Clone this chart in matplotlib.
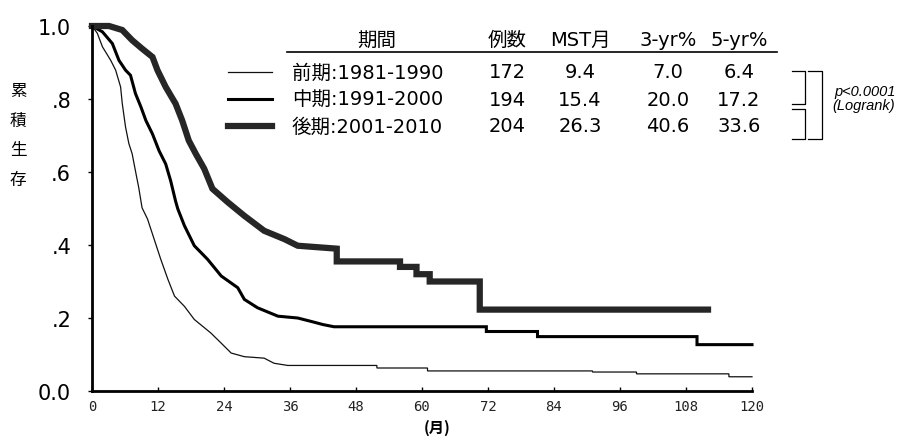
import matplotlib
matplotlib.use("Agg")
import matplotlib.pyplot as plt
from matplotlib.lines import Line2D

plt.rcParams['font.family'] = ['DejaVu Sans', 'Noto Sans CJK JP']

# curve vertices (month, cumulative survival)
# 前期 1981-1990 (thin)
t_early = [0, 0.97, 1.9, 3.4, 4.3, 5.2, 5.5, 6.1, 6.7, 7.3, 7.9, 8.5, 9.1, 10.1,
           11.3, 12.5, 13.8, 15, 16.8, 18.6, 21.6, 23.5, 25.3, 27.7, 31.3, 33.1,
           35.6, 51.8, 51.8, 61, 61, 91, 91, 99, 99, 115.8, 115.8, 120]
s_early = [1.0, 0.98, 0.943, 0.906, 0.879, 0.833, 0.788, 0.723, 0.678, 0.65, 0.603,
           0.557, 0.502, 0.471, 0.416, 0.361, 0.306, 0.26, 0.232, 0.196, 0.159,
           0.131, 0.104, 0.094, 0.09, 0.076, 0.070, 0.070, 0.063, 0.063, 0.055,
           0.055, 0.052, 0.052, 0.047, 0.047, 0.039, 0.039]

# 中期 1991-2000 (medium)
t_mid = [0, 1.9, 3.7, 4.9, 6.1, 7.0, 7.9, 8.9, 9.8, 11.0, 12.2, 13.4, 14.3, 15.2,
         15.6, 16.8, 18.6, 21, 23.5, 26.5, 27.7, 30.1, 33.8, 37.4, 40, 42, 44,
         71.7, 71.7, 81, 81, 110, 110, 120]
s_mid = [1.0, 0.984, 0.952, 0.906, 0.879, 0.865, 0.815, 0.778, 0.741, 0.704, 0.658,
         0.622, 0.576, 0.52, 0.499, 0.453, 0.398, 0.361, 0.315, 0.283, 0.251, 0.228,
         0.205, 0.20, 0.19, 0.182, 0.176, 0.176, 0.163, 0.163, 0.149, 0.149, 0.127,
         0.127]

# 後期 2001-2010 (thick)
t_late = [0, 3.1, 5.5, 7.3, 9.1, 11, 11.9, 13.4, 15.2, 16.4, 17.6, 18.9, 20.4, 21.9,
          24.7, 27.7, 31.3, 35, 37.4, 44.5, 44.5, 56, 56, 59, 59, 61.4, 61.4,
          70.5, 70.5, 112]
s_late = [1.0, 1.0, 0.989, 0.961, 0.938, 0.915, 0.879, 0.833, 0.787, 0.741, 0.686,
          0.649, 0.609, 0.554, 0.517, 0.48, 0.439, 0.416, 0.398, 0.39, 0.355, 0.355,
          0.34, 0.34, 0.32, 0.32, 0.30, 0.30, 0.223, 0.223]

groups = ['前期:1981-1990', '中期:1991-2000', '後期:2001-2010']
n_cases = ['172', '194', '204']
mst = ['9.4', '15.4', '26.3']
yr3 = ['7.0', '20.0', '40.6']
yr5 = ['6.4', '17.2', '33.6']
headers = ['期間', '例数', 'MST月', '3-yr%', '5-yr%']

xticks = [0, 12, 24, 36, 48, 60, 72, 84, 96, 108, 120]
yticks = [0, 0.2, 0.4, 0.6, 0.8, 1.0]
ytick_labels = ['0.0', '.2', '.4', '.6', '.8', '1.0']

W, H = 920, 439
fig = plt.figure(figsize=(W / 100, H / 100), dpi=100)


def fx(px):
    return px / W


def fy(py):
    return 1 - py / H


ax = fig.add_axes([fx(92), fy(392), fx(752) - fx(92), fy(27) - fy(392)])

styles = [dict(color='#111111', lw=0.9),
          dict(color='black', lw=2.2),
          dict(color='#262626', lw=4.5)]
series = [(t_early, s_early), (t_mid, s_mid), (t_late, s_late)]
for (t, s), st in zip(series, styles):
    ax.plot(t, s, clip_on=False, solid_joinstyle='miter', **st)

ax.set_xlim(0, 120)
ax.set_ylim(0, 1.0)
for side in ['top', 'right']:
    ax.spines[side].set_visible(False)
for side in ['left', 'bottom']:
    ax.spines[side].set_linewidth(2.0)

ax.set_xticks(xticks)
ax.set_xticklabels([str(v) for v in xticks], family='DejaVu Sans Mono',
                   fontsize=10, color='#222222')
ax.set_yticks(yticks)
ax.set_yticklabels(ytick_labels, fontsize=15)
ax.tick_params(axis='x', direction='in', length=3, width=1, pad=6)
ax.tick_params(axis='y', direction='out', length=3, width=1, pad=12)

# y label, stacked characters
fig.text(fx(18), fy(136), '累\n積\n生\n存', ha='center', va='center',
         fontsize=12, linespacing=1.95, family=['Noto Sans CJK JP'])
fig.text(fx(437), fy(428), '(月)', ha='center', va='center', fontsize=11,
         fontweight='bold', family=['Noto Sans CJK JP'])

# table header
col_x = [377, 507, 580, 668, 739]
for x, h in zip(col_x, headers):
    fig.text(fx(x), fy(40), h, ha='center', va='center', fontsize=14)
fig.add_artist(Line2D([fx(287), fx(777)], [fy(53), fy(53)], color='black', lw=1.2))

row_y = [73, 100, 127]
for i, y in enumerate(row_y):
    fig.add_artist(Line2D([fx(228), fx(272)], [fy(y), fy(y)], **styles[i]))
    fig.text(fx(292), fy(y), groups[i], ha='left', va='center', fontsize=14)
    for x, v in zip(col_x[1:], [n_cases[i], mst[i], yr3[i], yr5[i]]):
        fig.text(fx(x), fy(y), v, ha='center', va='center', fontsize=14)


# brackets
def bracket(x0, x1, y0, y1):
    fig.add_artist(Line2D([fx(x0), fx(x1), fx(x1), fx(x0)],
                          [fy(y0), fy(y0), fy(y1), fy(y1)], color='black', lw=0.9))


bracket(792, 805, 72, 105)
bracket(792, 805, 110, 140)
bracket(808, 822, 72, 140)
fig.text(fx(834), fy(92), 'p<0.0001', ha='left', va='center', fontsize=10.5,
         style='italic', family='Liberation Sans')
fig.text(fx(832), fy(106), '(Logrank)', ha='left', va='center', fontsize=10.5,
         style='italic', family='Liberation Sans')

fig.savefig('out.png', dpi=100)
